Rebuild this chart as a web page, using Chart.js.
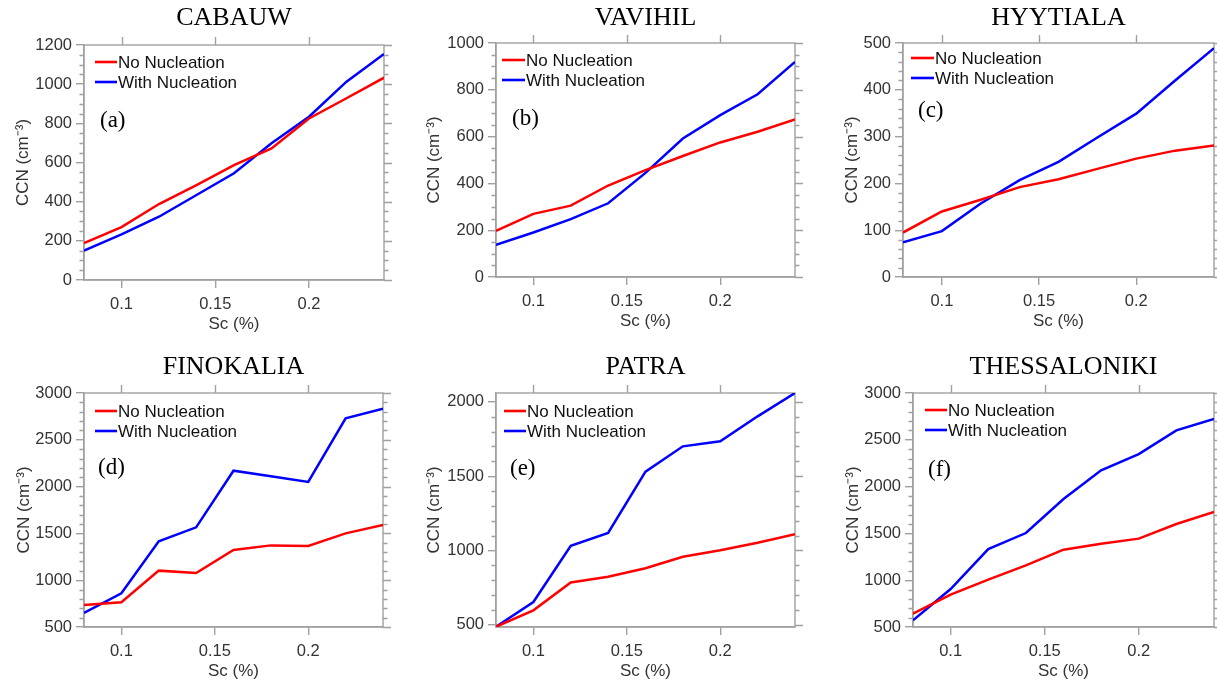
<!DOCTYPE html>
<html><head><meta charset="utf-8">
<script src="https://cdn.jsdelivr.net/npm/chart.js@4.4.1/dist/chart.umd.min.js"></script>
<style>
html,body{margin:0;padding:0;background:#fff;overflow:hidden;width:1217px;height:684px;position:relative}
canvas{position:absolute}
</style>
</head><body>
<canvas id="c0"></canvas><canvas id="c1"></canvas><canvas id="c2"></canvas>
<canvas id="c3"></canvas><canvas id="c4"></canvas><canvas id="c5"></canvas>
<script>
// ---- data ----
const scValues = [0.08, 0.10, 0.12, 0.14, 0.16, 0.18, 0.20, 0.22, 0.24];
const xTickValues = [0.1, 0.15, 0.2];
const seriesLabels = ['No Nucleation', 'With Nucleation'];
const stationNames = ['CABAUW', 'VAVIHIL', 'HYYTIALA', 'FINOKALIA', 'PATRA', 'THESSALONIKI'];
const panelLetters = ['(a)', '(b)', '(c)', '(d)', '(e)', '(f)'];

const cabauwNo      = [188, 270, 388, 485, 587, 672, 825, 928, 1033];
const cabauwWith    = [150, 233, 323, 434, 545, 698, 834, 1013, 1154];
const vavihilNo     = [197, 270, 305, 391, 457, 517, 575, 621, 673];
const vavihilWith   = [138, 190, 247, 315, 445, 592, 692, 781, 919];
const hyytialaNo    = [95, 140, 165, 192, 209, 231, 253, 270, 281];
const hyytialaWith  = [74, 98, 157, 207, 246, 298, 349, 420, 489];
const finokaliaNo   = [735, 765, 1102, 1077, 1323, 1372, 1365, 1500, 1590];
const finokaliaWith = [650, 860, 1415, 1565, 2170, 2110, 2050, 2730, 2833];
const patraNo       = [487, 597, 785, 823, 880, 958, 1001, 1052, 1109];
const patraWith     = [487, 653, 1032, 1118, 1531, 1701, 1735, 1903, 2060];
const thessNo       = [642, 845, 1006, 1159, 1326, 1390, 1444, 1600, 1729];
const thessWith     = [571, 906, 1333, 1504, 1868, 2174, 2348, 2601, 2722];

const yTicksA = [0, 200, 400, 600, 800, 1000, 1200];
const yTicksB = [0, 200, 400, 600, 800, 1000];
const yTicksC = [0, 100, 200, 300, 400, 500];
const yTicksD = [500, 1000, 1500, 2000, 2500, 3000];
const yTicksE = [500, 1000, 1500, 2000];
const yTicksF = [500, 1000, 1500, 2000, 2500, 3000];

const yRanges = [[0, 1200], [0, 1000], [0, 500], [500, 3000], [485, 2060], [500, 3000]];
const yMinorSteps = [50, 50, 20, 100, 100, 100];

const noSeries   = [cabauwNo, vavihilNo, hyytialaNo, finokaliaNo, patraNo, thessNo];
const withSeries = [cabauwWith, vavihilWith, hyytialaWith, finokaliaWith, patraWith, thessWith];
const yTickSets  = [yTicksA, yTicksB, yTicksC, yTicksD, yTicksE, yTicksF];

// ---- layout (page pixels) ----
const boxes = [
  {L:84,  R:384,  T:45,  B:280, tOff:61,   tDy:27, lx:16, ly:76, g0:11, g1:33, gy:17, row:0},
  {L:496, R:795,  T:43,  B:277, tOff:62,   tDy:25, lx:16, ly:76, g0:6,  g1:29, gy:17, row:0},
  {L:903, R:1214, T:43,  B:277, tOff:50.5, tDy:25, lx:15, ly:68, g0:8,  g1:31, gy:15, row:0},
  {L:84,  R:383,  T:393, B:627, tOff:60,   tDy:26, lx:14, ly:75, g0:11, g1:33, gy:18, row:1},
  {L:496, R:795,  T:393, B:627, tOff:62,   tDy:26, lx:14, ly:76, g0:8,  g1:30, gy:18, row:1},
  {L:913, R:1214, T:393, B:627, tOff:60,   tDy:26, lx:15, ly:77, g0:12, g1:34, gy:17, row:1}
];
const RED = '#ff0000', BLUE = '#0000ff', FRAME = '#a0a0a0', TXT = '#333333';
const SANS = '"Liberation Sans", Arial, sans-serif';
const SERIF = '"Liberation Serif", "Times New Roman", serif';

const decorPlugin = {
  id: 'decor',
  beforeDatasetsDraw(chart) {
    const o = chart.options.plugins.decor;
    const {ctx, chartArea: a, scales: {x, y}} = chart;
    ctx.save();
    ctx.strokeStyle = FRAME; ctx.lineWidth = 1.4;
    ctx.strokeRect(a.left, a.top, a.right - a.left, a.bottom - a.top);
    ctx.beginPath();
    const ms = o.minor;
    for (let k = Math.ceil(y.min / ms); k * ms <= y.max + 1e-9; k++) {
      const v = k * ms;
      const py = Math.round(y.getPixelForValue(v)) + 0.5;
      const major = o.majors.includes(v);
      const len = major ? 8 : 4.5;
      if (!major) { ctx.moveTo(a.left, py); ctx.lineTo(a.left - len, py); }
      ctx.moveTo(a.right, py); ctx.lineTo(a.right + len, py);
    }
    for (const v of xTickValues) {
      const px = Math.round(x.getPixelForValue(v)) + 0.5;
      ctx.moveTo(px, a.top); ctx.lineTo(px, a.top - 8);
    }
    ctx.stroke();
    ctx.restore();
  },
  afterDraw(chart) {
    const o = chart.options.plugins.decor;
    const {ctx, chartArea: a} = chart;
    ctx.save();
    // station title
    ctx.fillStyle = '#000';
    ctx.font = '26px ' + SERIF;
    ctx.textAlign = 'center'; ctx.textBaseline = 'middle';
    ctx.fillText(o.title, (a.left + a.right) / 2, a.top - o.b.tDy);
    // panel letter
    ctx.font = '23px ' + SERIF;
    ctx.textAlign = 'left';
    ctx.fillText(o.letter, a.left + o.b.lx, a.top + o.b.ly);
    // legend
    const cols = [RED, BLUE];
    ctx.font = '17px ' + SANS;
    for (let i = 0; i < 2; i++) {
      const yy = a.top + o.b.gy + i * 20;
      ctx.strokeStyle = cols[i]; ctx.lineWidth = 2.6;
      ctx.beginPath(); ctx.moveTo(a.left + o.b.g0, yy); ctx.lineTo(a.left + o.b.g1, yy); ctx.stroke();
      ctx.fillStyle = '#111';
      ctx.fillText(seriesLabels[i], a.left + o.b.g1 + 1, yy + 1);
    }
    ctx.restore();
  }
};

function makePanel(i) {
  const b = boxes[i];
  const axW = 84, axH = 55;
  const canvasTop = b.row === 0 ? 0 : 338;
  const padTop = b.T - canvasTop;
  const padR = Math.min(16, 1217 - b.R);
  const W = (b.R - b.L) + axW + padR;
  const H = (b.B - b.T) + padTop + axH;
  const cv = document.getElementById('c' + i);
  cv.width = W; cv.height = H;
  cv.style.width = W + 'px'; cv.style.height = H + 'px';
  cv.style.left = (b.L - axW) + 'px'; cv.style.top = canvasTop + 'px';
  const mk = arr => scValues.map((sx, k) => ({x: sx, y: arr[k]}));
  const lh = 17 * 1.2;
  new Chart(cv, {
    type: 'line',
    data: {datasets: [
      {label: seriesLabels[0], data: mk(noSeries[i]), borderColor: RED, backgroundColor: RED, borderWidth: 2.5, pointRadius: 0, tension: 0, fill: false},
      {label: seriesLabels[1], data: mk(withSeries[i]), borderColor: BLUE, backgroundColor: BLUE, borderWidth: 2.5, pointRadius: 0, tension: 0, fill: false}
    ]},
    options: {
      responsive: false, animation: false, devicePixelRatio: 1,
      layout: {padding: {top: padTop, right: padR, left: 0, bottom: 0}},
      plugins: {
        legend: {display: false}, tooltip: {enabled: false}, title: {display: false},
        decor: {title: stationNames[i], letter: panelLetters[i], b: b, minor: yMinorSteps[i], majors: yTickSets[i]}
      },
      scales: {
        x: {
          type: 'linear', min: 0.08, max: 0.24,
          afterBuildTicks: s => { s.ticks = xTickValues.map(v => ({value: v})); },
          afterFit: s => { s.height = axH; },
          ticks: {callback: v => String(v), font: {family: SANS, size: 16.5}, color: TXT, padding: 7, maxRotation: 0, autoSkip: false},
          grid: {display: true, drawOnChartArea: false, drawTicks: true, tickLength: 8, color: FRAME, lineWidth: 1.4},
          border: {display: true, color: FRAME, width: 1.4},
          title: {display: true, text: 'Sc (%)', font: {family: SANS, size: 17}, color: TXT, padding: {top: 0, bottom: 55 - 44 - lh / 2}}
        },
        y: {
          type: 'linear', min: yRanges[i][0], max: yRanges[i][1],
          afterBuildTicks: s => { s.ticks = yTickSets[i].map(v => ({value: v})); },
          afterFit: s => { s.width = axW; },
          ticks: {callback: v => String(v), font: {family: SANS, size: 16.5}, color: TXT, padding: 4, autoSkip: false},
          grid: {display: true, drawOnChartArea: false, drawTicks: true, tickLength: 8, color: FRAME, lineWidth: 1.4},
          border: {display: true, color: FRAME, width: 1.4},
          title: {display: true, text: 'CCN (cm\u207B\u00B3)', font: {family: SANS, size: 17}, color: TXT, padding: {top: (axW - b.tOff) - lh / 2, bottom: 0}}
        }
      }
    },
    plugins: [decorPlugin]
  });
}
for (let i = 0; i < 6; i++) makePanel(i);
</script>
</body></html>
